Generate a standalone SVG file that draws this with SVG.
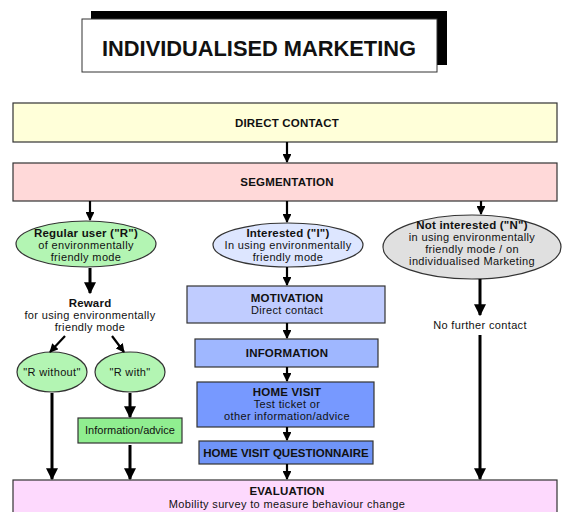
<svg xmlns="http://www.w3.org/2000/svg" width="566" height="512" viewBox="0 0 566 512">
<style>
text{font-family:"Liberation Sans",Arial,sans-serif;fill:#111;text-anchor:middle}
.b{font-weight:bold}
.t{font-size:11.5px;letter-spacing:0.2px}
.s{font-size:11px;letter-spacing:0.35px}
.box{stroke:#333;stroke-width:1.2}
.c{stroke:#000;stroke-width:2.2;fill:none;marker-end:url(#ah)}
.ct{stroke:#000;stroke-width:3;fill:none;marker-end:url(#ah)}
</style>
<defs>
<marker id="ah" viewBox="0 0 10 10" refX="9" refY="5" markerWidth="4" markerHeight="4" markerUnits="strokeWidth" orient="auto">
<path d="M0,0 L10,5 L0,10 z" fill="#000"/>
</marker>
</defs>
<rect width="566" height="512" fill="#fff"/>
<g id="title">
<rect x="91" y="11" width="356" height="54" fill="#000"/>
<rect x="82" y="19" width="355" height="53" fill="#fff" stroke="#333" stroke-width="1"/>
<text x="259" y="56" class="b" style="font-size:22px" textLength="314" lengthAdjust="spacingAndGlyphs">INDIVIDUALISED MARKETING</text>
</g>
<g id="direct-contact">
<rect x="13" y="103" width="544" height="39" fill="#ffffd9" class="box"/>
<text x="287" y="127" class="b t">DIRECT CONTACT</text>
</g>
<g id="segmentation">
<rect x="13" y="163" width="544" height="38" fill="#ffd9d9" class="box"/>
<text x="287" y="186" class="b t">SEGMENTATION</text>
</g>
<g id="regular">
<ellipse cx="86" cy="244" rx="70" ry="23" fill="#b3f5b3" class="box"/>
<text x="86" y="237" class="b t">Regular user ("R")</text>
<text x="86" y="249" class="s">of environmentally</text>
<text x="86" y="261" class="s">friendly mode</text>
</g>
<g id="interested">
<ellipse cx="288" cy="245" rx="75" ry="22" fill="#dde6ff" class="box"/>
<text x="288" y="237" class="b t">Interested ("I")</text>
<text x="288" y="249" class="s">In using environmentally</text>
<text x="288" y="261" class="s">friendly mode</text>
</g>
<g id="not-interested">
<ellipse cx="472" cy="247" rx="89" ry="32" fill="#e0e0e0" class="box"/>
<text x="472" y="229" class="b t">Not interested ("N")</text>
<text x="472" y="241" class="s">in using environmentally</text>
<text x="472" y="253" class="s">friendly mode / on</text>
<text x="472" y="265" class="s">individualised Marketing</text>
</g>
<g id="reward">
<text x="90" y="307" class="b t">Reward</text>
<text x="90" y="319" class="s">for using environmentally</text>
<text x="90" y="331" class="s">friendly mode</text>
</g>
<g id="r-without">
<ellipse cx="52" cy="372" rx="35" ry="20" fill="#b3f5b3" class="box"/>
<text x="52" y="376" class="s">"R without"</text>
</g>
<g id="r-with">
<ellipse cx="130" cy="372" rx="35" ry="20" fill="#b3f5b3" class="box"/>
<text x="130" y="376" class="s">"R with"</text>
</g>
<g id="info-advice">
<rect x="78" y="418" width="104" height="25" fill="#90ee90" class="box"/>
<text x="130" y="434" class="s" style="letter-spacing:0">Information/advice</text>
</g>
<g id="motivation">
<rect x="187" y="286" width="198" height="37" fill="#c0ccff" class="box"/>
<text x="287" y="302" class="b t">MOTIVATION</text>
<text x="287" y="314" class="s">Direct contact</text>
</g>
<g id="information">
<rect x="195" y="339" width="183" height="28" fill="#9fb7ff" class="box"/>
<text x="287" y="357" class="b t">INFORMATION</text>
</g>
<g id="home-visit">
<rect x="197" y="382" width="177" height="45" fill="#7799ff" class="box"/>
<text x="287" y="396" class="b t">HOME VISIT</text>
<text x="287" y="408" class="s">Test ticket or</text>
<text x="287" y="420" class="s">other information/advice</text>
</g>
<g id="questionnaire">
<rect x="199" y="441" width="174" height="23" fill="#6f94f8" class="box"/>
<text x="286" y="457" class="b t" style="letter-spacing:0">HOME VISIT QUESTIONNAIRE</text>
</g>
<g id="no-further">
<text x="480" y="329" class="s">No further contact</text>
</g>
<g id="evaluation">
<rect x="13" y="480" width="544" height="40" fill="#fdd9fd" class="box"/>
<text x="287" y="495" class="b t">EVALUATION</text>
<text x="287" y="508" class="s">Mobility survey to measure behaviour change</text>
</g>
<g id="connectors">
<line x1="287" y1="142" x2="287" y2="162" class="c"/>
<line x1="90" y1="201" x2="90" y2="220" class="c"/>
<line x1="287" y1="201" x2="287" y2="222" class="c"/>
<line x1="481" y1="201" x2="481" y2="214" class="c"/>
<line x1="90" y1="268" x2="90" y2="293" class="ct"/>
<line x1="65" y1="336" x2="50" y2="352" class="c"/>
<line x1="112" y1="336" x2="124" y2="352" class="c"/>
<line x1="52" y1="393" x2="52" y2="479" class="ct"/>
<line x1="130" y1="393" x2="130" y2="417" class="ct"/>
<line x1="130" y1="445" x2="130" y2="479" class="ct"/>
<line x1="287" y1="267" x2="287" y2="285" class="c"/>
<line x1="287" y1="323" x2="287" y2="338" class="c"/>
<line x1="287" y1="367" x2="287" y2="381" class="c"/>
<line x1="287" y1="427" x2="287" y2="440" class="c"/>
<line x1="287" y1="464" x2="287" y2="479" class="c"/>
<line x1="480" y1="279" x2="480" y2="315" class="ct"/>
<line x1="480" y1="335" x2="480" y2="479" class="ct"/>
</g>
</svg>
